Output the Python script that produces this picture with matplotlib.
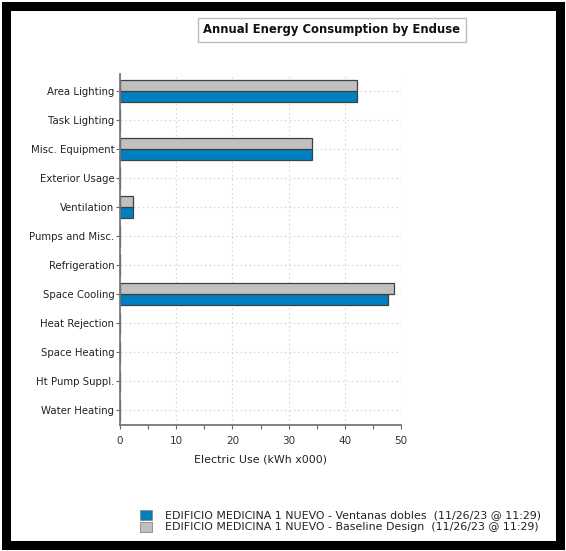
import matplotlib
matplotlib.use("Agg")
import matplotlib.pyplot as plt
from matplotlib.patches import Rectangle
from matplotlib.ticker import MultipleLocator

categories = ["Area Lighting", "Task Lighting", "Misc. Equipment", "Exterior Usage",
              "Ventilation", "Pumps and Misc.", "Refrigeration", "Space Cooling",
              "Heat Rejection", "Space Heating", "Ht Pump Suppl.", "Water Heating"]
ventanas = [42.1, 0, 34.2, 0, 2.3, 0, 0, 47.6, 0, 0, 0, 0]
baseline = [42.1, 0, 34.2, 0, 2.4, 0, 0, 48.8, 0, 0, 0, 0]
series_labels = ["EDIFICIO MEDICINA 1 NUEVO - Ventanas dobles  (11/26/23 @ 11:29)",
                 "EDIFICIO MEDICINA 1 NUEVO - Baseline Design  (11/26/23 @ 11:29)"]
x_ticks = [0, 10, 20, 30, 40, 50]

W, H = 566, 551
fig = plt.figure(figsize=(W / 100, H / 100), dpi=100)
fig.patch.set_facecolor("white")

# thick black frame around the whole page
fig.patches.append(Rectangle((6 / W, 6 / H), 1 - 12 / W, 1 - 12 / H,
                             transform=fig.transFigure, fill=False,
                             edgecolor="black", linewidth=6.5))

ax_l, ax_r = 120, 401
ax_t, ax_b = 74, 425
ax = fig.add_axes([ax_l / W, 1 - ax_b / H, (ax_r - ax_l) / W, (ax_b - ax_t) / H])

blue = "#0080c0"
gray = "#c0c0c0"
edge = "#404040"
n = len(categories)
ys = list(range(n))
bh = 0.37
ax.barh([y + bh / 2 for y in ys], ventanas, height=bh, color=blue,
        edgecolor=edge, linewidth=0.9, zorder=3)
ax.barh([y - bh / 2 for y in ys], baseline, height=bh, color=gray,
        edgecolor=edge, linewidth=0.9, zorder=3)

ax.set_ylim(n - 0.5, -0.58)
ax.set_xlim(0, 50)
ax.set_yticks(ys)
ax.set_yticklabels(categories, fontsize=7.3, color="#222222")
ax.set_xticks(x_ticks)
ax.set_xticklabels([str(v) for v in x_ticks], fontsize=7.5, color="#333333")
ax.xaxis.set_minor_locator(MultipleLocator(5))
ax.tick_params(axis="y", length=3, width=0.8, color="#666666", pad=1)
ax.tick_params(axis="x", which="both", length=3, width=0.8, color="#666666", pad=5)
ax.grid(True, which="major", color="#d8d8d8", linestyle=(0, (1.5, 2.5)), linewidth=0.8, zorder=0)
for s in ("top", "right"):
    ax.spines[s].set_visible(False)
for s in ("left", "bottom"):
    ax.spines[s].set_color("#777777")
    ax.spines[s].set_linewidth(1.3)
    ax.spines[s].set_zorder(4)
ax.set_xlabel("Electric Use (kWh x000)", fontsize=7.9, color="#222222", labelpad=6)

# title in its own box
fig.text(332 / W, 1 - 30 / H, "Annual Energy Consumption by Enduse",
         ha="center", va="center", fontsize=8.4, fontweight="bold", color="#111111",
         bbox=dict(boxstyle="square,pad=0.45", facecolor="white",
                   edgecolor="#bbbbbb", linewidth=1.0))

# legend rows
for i, (lab, col) in enumerate(zip(series_labels, [blue, gray])):
    yc = 515 + i * 11.5
    fig.patches.append(Rectangle((140 / W, 1 - (yc + 5) / H), 12 / W, 10 / H,
                                 transform=fig.transFigure, facecolor=col,
                                 edgecolor="#888888", linewidth=0.6))
    fig.text(165 / W, 1 - yc / H, lab, ha="left", va="center",
             fontsize=7.9, color="#222222")

fig.savefig("out.png", dpi=100, facecolor="white")
